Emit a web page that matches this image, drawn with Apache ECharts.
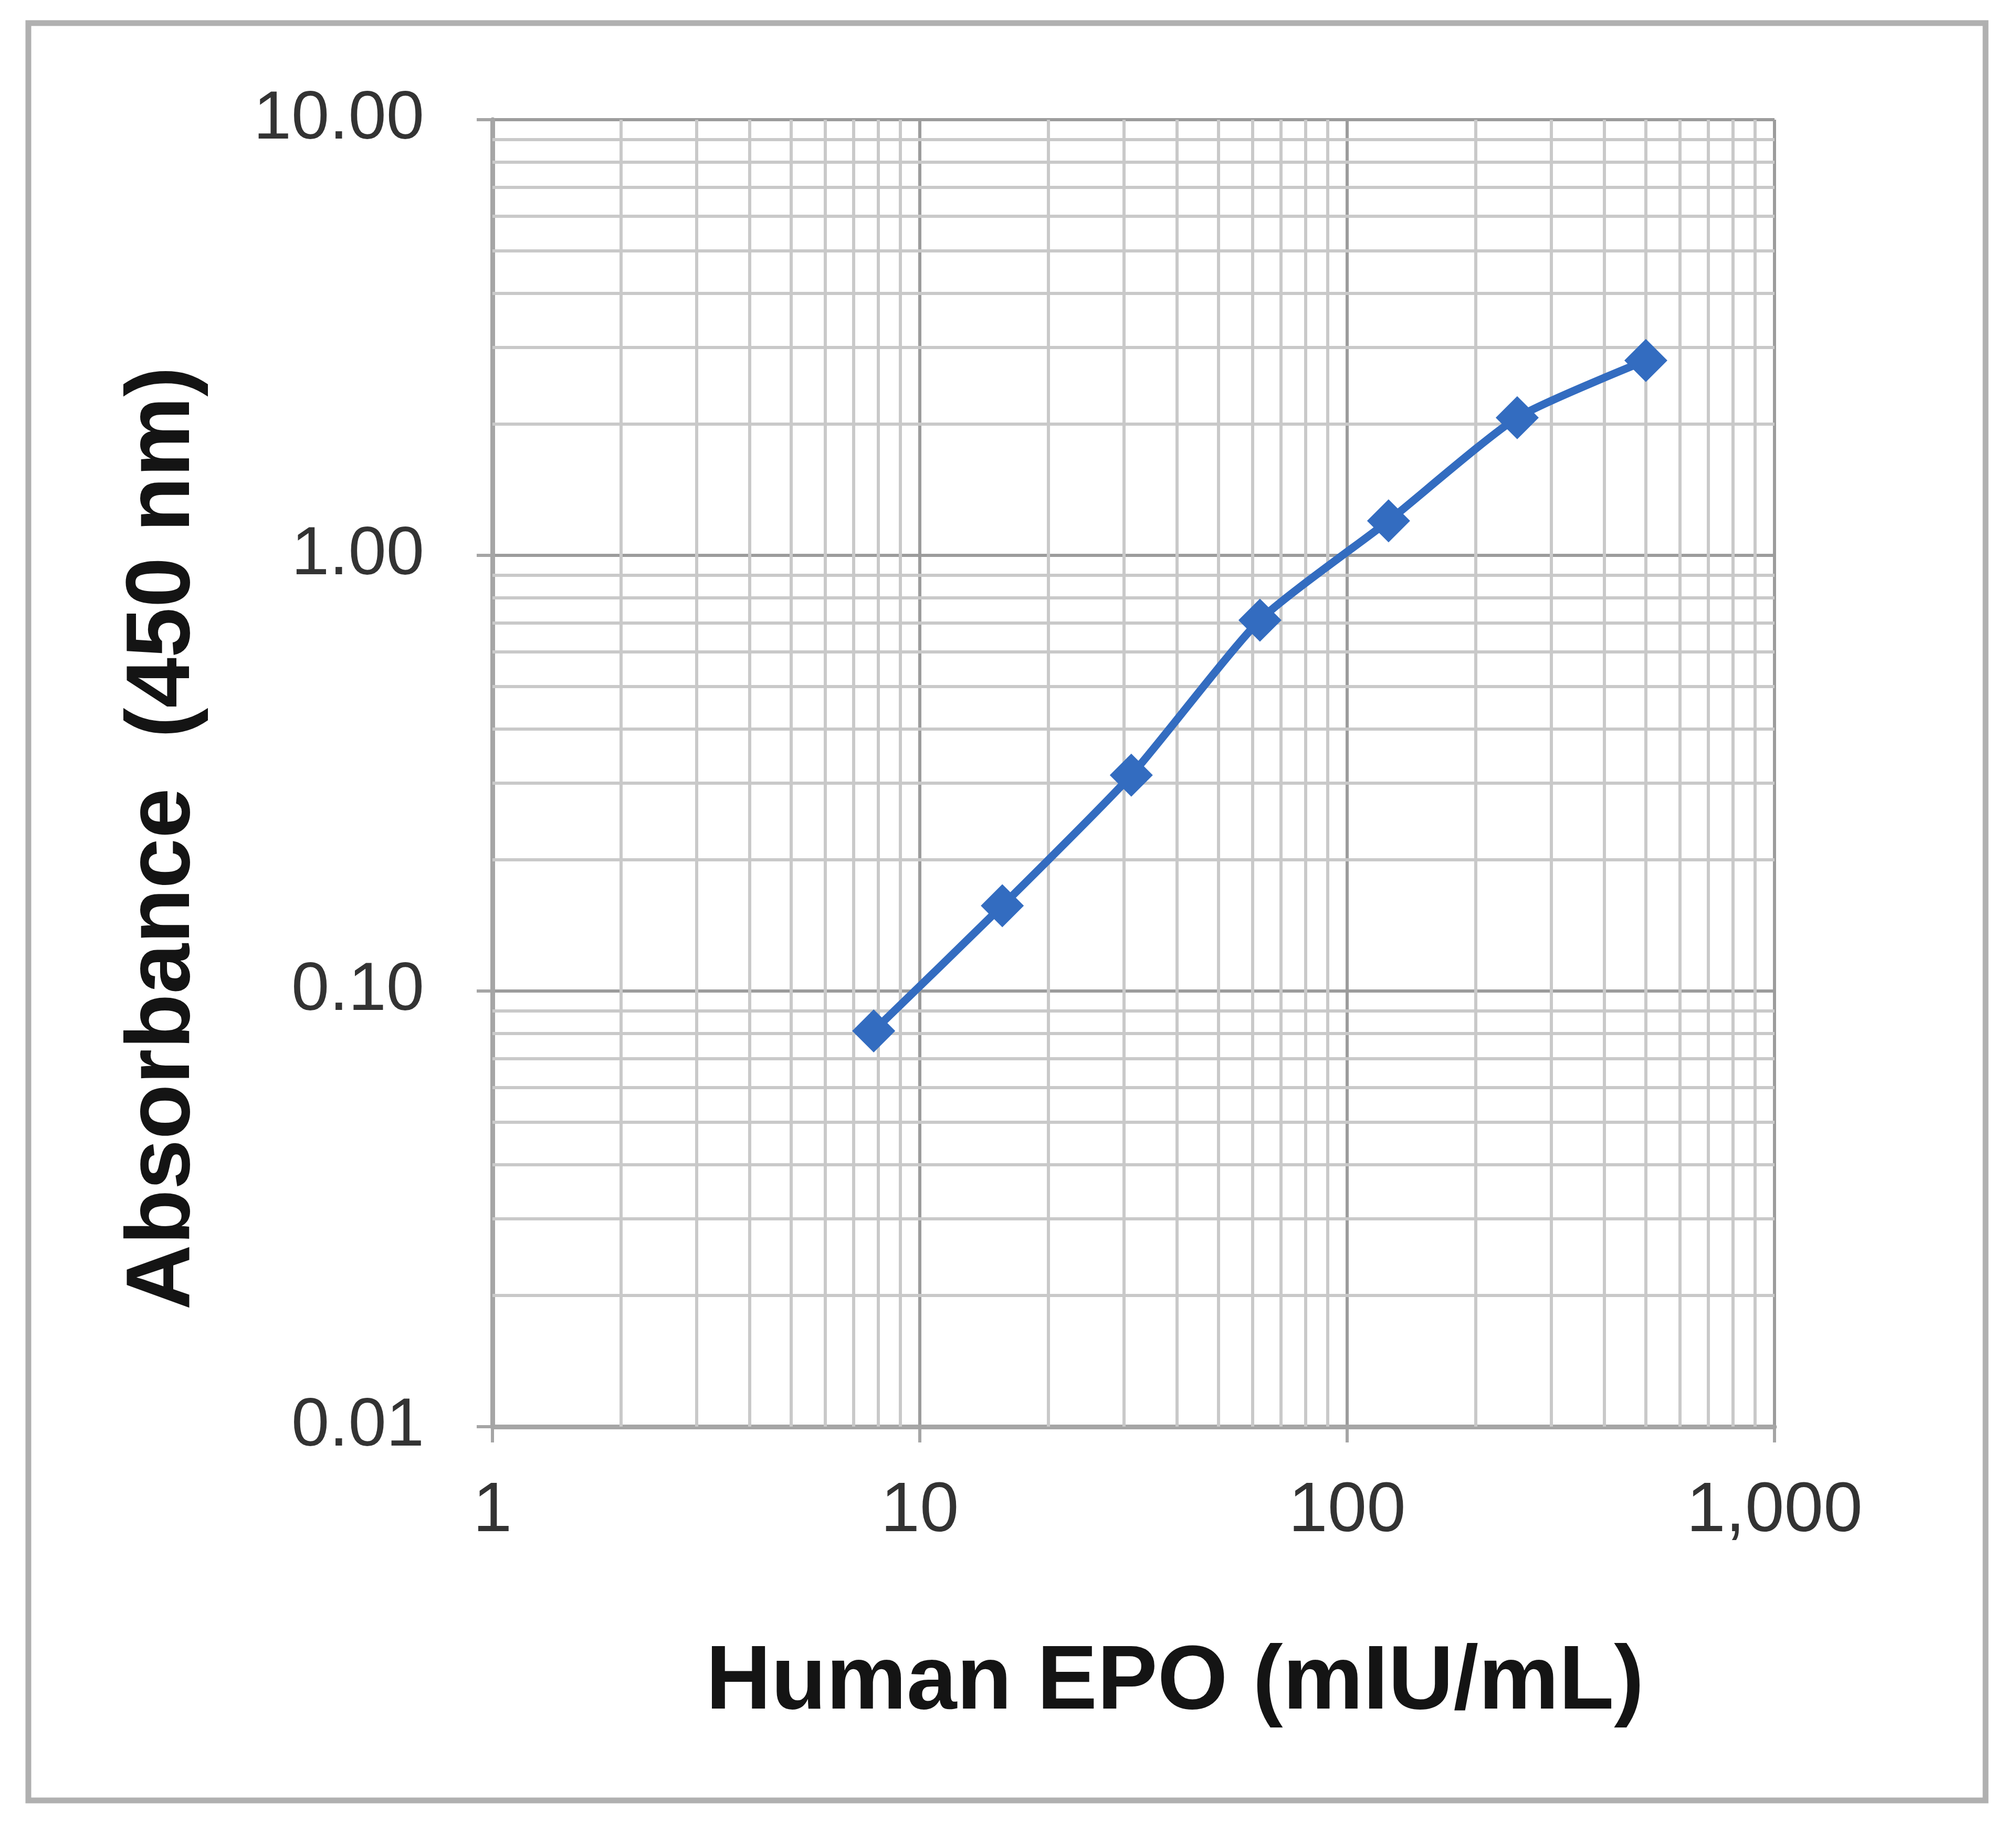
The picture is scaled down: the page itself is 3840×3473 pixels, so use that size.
<!DOCTYPE html>
<html><head><meta charset="utf-8">
<script src="https://cdn.jsdelivr.net/npm/echarts@6/dist/echarts.min.js"></script>
<style>html,body{margin:0;padding:0;background:#fff}#c{width:3840px;height:3473px}</style>
</head><body><div id="c"></div>
<script>
const concentrations = [7.8, 15.6, 31.25, 62.5, 125, 250, 500];
const absorbance = [0.081, 0.157, 0.313, 0.71, 1.2, 2.07, 2.8];
const xTickValues = [1, 10, 100, 1000];
const xTickLabels = ['1', '10', '100', '1,000'];
const yTickValues = [0.01, 0.1, 1, 10];
const yTickLabels = ['0.01', '0.10', '1.00', '10.00'];
const xMinorGrid = [2,3,4,5,6,7,8,9,20,30,40,50,60,70,80,90,200,300,400,500,600,700,800,900];
const yMinorGrid = [0.02,0.03,0.04,0.05,0.06,0.07,0.08,0.09,0.2,0.3,0.4,0.5,0.6,0.7,0.8,0.9,2,3,4,5,6,7,8,9];
const xTitle = 'Human EPO (mIU/mL)';
const yTitle = 'Absorbance  (450 nm)';

function labelFor(values, labels, v) {
  let best = 0, bd = Infinity;
  values.forEach((t, i) => { const d = Math.abs(Math.log10(t) - Math.log10(v)); if (d < bd) { bd = d; best = i; } });
  return bd < 0.01 ? labels[best] : '';
}

const FONT = '"Liberation Sans", Arial, sans-serif';
const chart = echarts.init(document.getElementById('c'), null, {renderer: 'canvas'});
const axisCommon = {
  type: 'log', logBase: 10,
  axisLine: {show: true, lineStyle: {color: '#a5a5a5', width: 9}},
  axisTick: {show: true, length: 30, lineStyle: {color: '#a5a5a5', width: 6}},
  splitLine: {show: true, lineStyle: {color: '#9c9c9c', width: 6}},
  minorTick: {show: false}, minorSplitLine: {show: false}
};
chart.setOption({
  animation: false,
  backgroundColor: '#ffffff',
  grid: {left: 938, right: 460, top: 228, bottom: 755, containLabel: false},
  xAxis: Object.assign({}, axisCommon, {
    min: 1, max: 1000, splitNumber: 3,
    axisLabel: {fontFamily: FONT, fontSize: 134, color: '#333333', margin: 95,
      formatter: v => labelFor(xTickValues, xTickLabels, v)}
  }),
  yAxis: Object.assign({}, axisCommon, {
    min: 0.01, max: 10, splitNumber: 3,
    axisLabel: {fontFamily: FONT, fontSize: 130, color: '#333333', margin: 130,
      formatter: v => labelFor(yTickValues, yTickLabels, v)}
  }),
  graphic: [
    {type: 'rect', z: -10, shape: {x: 54, y: 44, width: 3728, height: 3386},
     style: {fill: 'none', stroke: '#b0b0b0', lineWidth: 11}},
    {type: 'text', x: 2238, y: 3208, style: {text: xTitle, font: 'bold 172px ' + FONT,
      fill: '#141414', textAlign: 'center', textVerticalAlign: 'middle'}},
    {type: 'text', x: 313, y: 1597, rotation: Math.PI / 2, style: {text: yTitle, font: 'bold 172px ' + FONT,
      fill: '#141414', textAlign: 'center', textVerticalAlign: 'middle'}}
  ],
  series: [
    {type: 'line', data: [], z: 1, silent: true,
     markLine: {silent: true, z: 1, symbol: ['none', 'none'], label: {show: false}, animation: false,
       lineStyle: {type: 'solid', color: '#c9c9c9', width: 6},
       data: xMinorGrid.map(v => ({xAxis: v})).concat(yMinorGrid.map(v => ({yAxis: v})))}},
    {type: 'line', z: 10, data: concentrations.map((c, i) => [c, absorbance[i]]),
     smooth: 0.2, symbol: 'diamond', symbolSize: 82,
     lineStyle: {color: '#336cc0', width: 15},
     itemStyle: {color: '#336cc0'}}
  ]
});
</script></body></html>
